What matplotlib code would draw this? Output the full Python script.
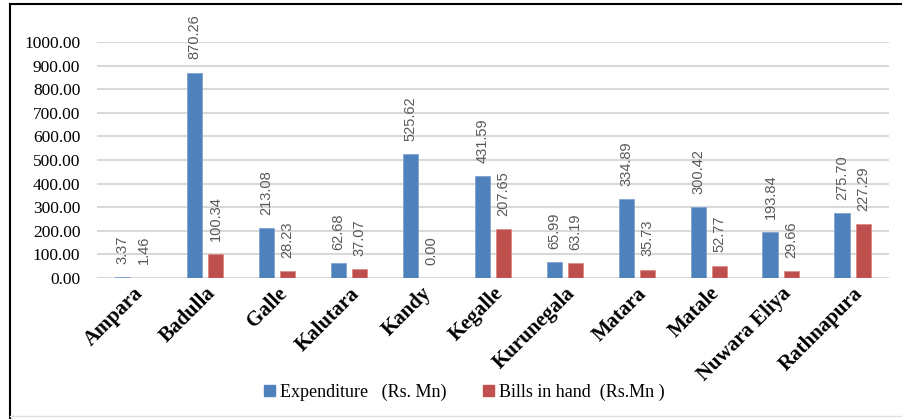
import matplotlib
matplotlib.use("Agg")
import matplotlib.pyplot as plt
import numpy as np
from matplotlib.lines import Line2D
from matplotlib.patches import Patch

districts = ["Ampara", "Badulla", "Galle", "Kalutara", "Kandy", "Kegalle",
             "Kurunegala", "Matara", "Matale", "Nuwara Eliya", "Rathnapura"]
expenditure = [3.37, 870.26, 213.08, 62.68, 525.62, 431.59, 65.99, 334.89, 300.42, 193.84, 275.70]
bills = [1.46, 100.34, 28.23, 37.07, 0.00, 207.65, 63.19, 35.73, 52.77, 29.66, 227.29]
yticks = [0, 100, 200, 300, 400, 500, 600, 700, 800, 900, 1000]

serif = ["Liberation Serif", "DejaVu Serif"]
blue = "#4F81BD"
red = "#C0504D"

fig = plt.figure(figsize=(9.02, 4.19), dpi=100)
ax = fig.add_axes([0.1075, 0.3365, 0.878, 0.5633])

x = np.arange(len(districts))
w = 0.22
off = 0.146
ax.bar(x - off, expenditure, w, color=blue, edgecolor="#7FA3D1", linewidth=0.6, zorder=3)
ax.bar(x + off, bills, w, color=red, edgecolor="#D88A88", linewidth=0.6, zorder=3)

for xi, v in zip(x, expenditure):
    ax.annotate(f"{v:.2f}", (xi - off, v), xytext=(0, 9.5), textcoords="offset points",
                rotation=90, ha="center", va="bottom", fontsize=10.5, color="#595959",
                family=["Liberation Sans", "DejaVu Sans"], annotation_clip=False)
for xi, v in zip(x, bills):
    ax.annotate(f"{v:.2f}", (xi + off, v), xytext=(0, 9.5), textcoords="offset points",
                rotation=90, ha="center", va="bottom", fontsize=10.5, color="#595959",
                family=["Liberation Sans", "DejaVu Sans"], annotation_clip=False)

ax.set_xlim(-0.5, len(districts) - 0.5)
ax.set_ylim(0, 1000)
ax.set_yticks(yticks)
ax.set_yticklabels([f"{t:.2f}" for t in yticks], family=serif, fontsize=12.5)
ax.yaxis.grid(True, color="#D9D9D9", linewidth=1.5, zorder=0)
ax.set_axisbelow(True)
for s in ax.spines.values():
    s.set_visible(False)
ax.tick_params(axis="both", length=0)
ax.tick_params(axis="y", pad=12)
ax.set_xticks(x)
ax.set_xticklabels(districts, rotation=45, ha="right", va="top", rotation_mode="anchor",
                   family=serif, fontsize=15, fontweight="bold")
ax.tick_params(axis="x", pad=4)

handles = [Patch(color=blue), Patch(color=red)]
fig.legend(handles, ["Expenditure   (Rs. Mn)", "Bills in hand  (Rs.Mn )"],
           loc="center", bbox_to_anchor=(0.515, 0.064), ncol=2, frameon=False,
           prop={"family": serif, "size": 13}, handlelength=0.6, handleheight=0.6,
           handletextpad=0.3, columnspacing=2.0)

fig.add_artist(Line2D([10 / 902, 1], [1 - 4 / 419, 1 - 4 / 419], transform=fig.transFigure, color="black", linewidth=1.5))
fig.add_artist(Line2D([10 / 902, 10 / 902], [0, 1 - 4 / 419], transform=fig.transFigure, color="black", linewidth=1.5))
fig.add_artist(Line2D([10 / 902, 1], [3 / 419, 3 / 419], transform=fig.transFigure, color="#E0E0E0", linewidth=1))

fig.savefig("out.png", dpi=100)
